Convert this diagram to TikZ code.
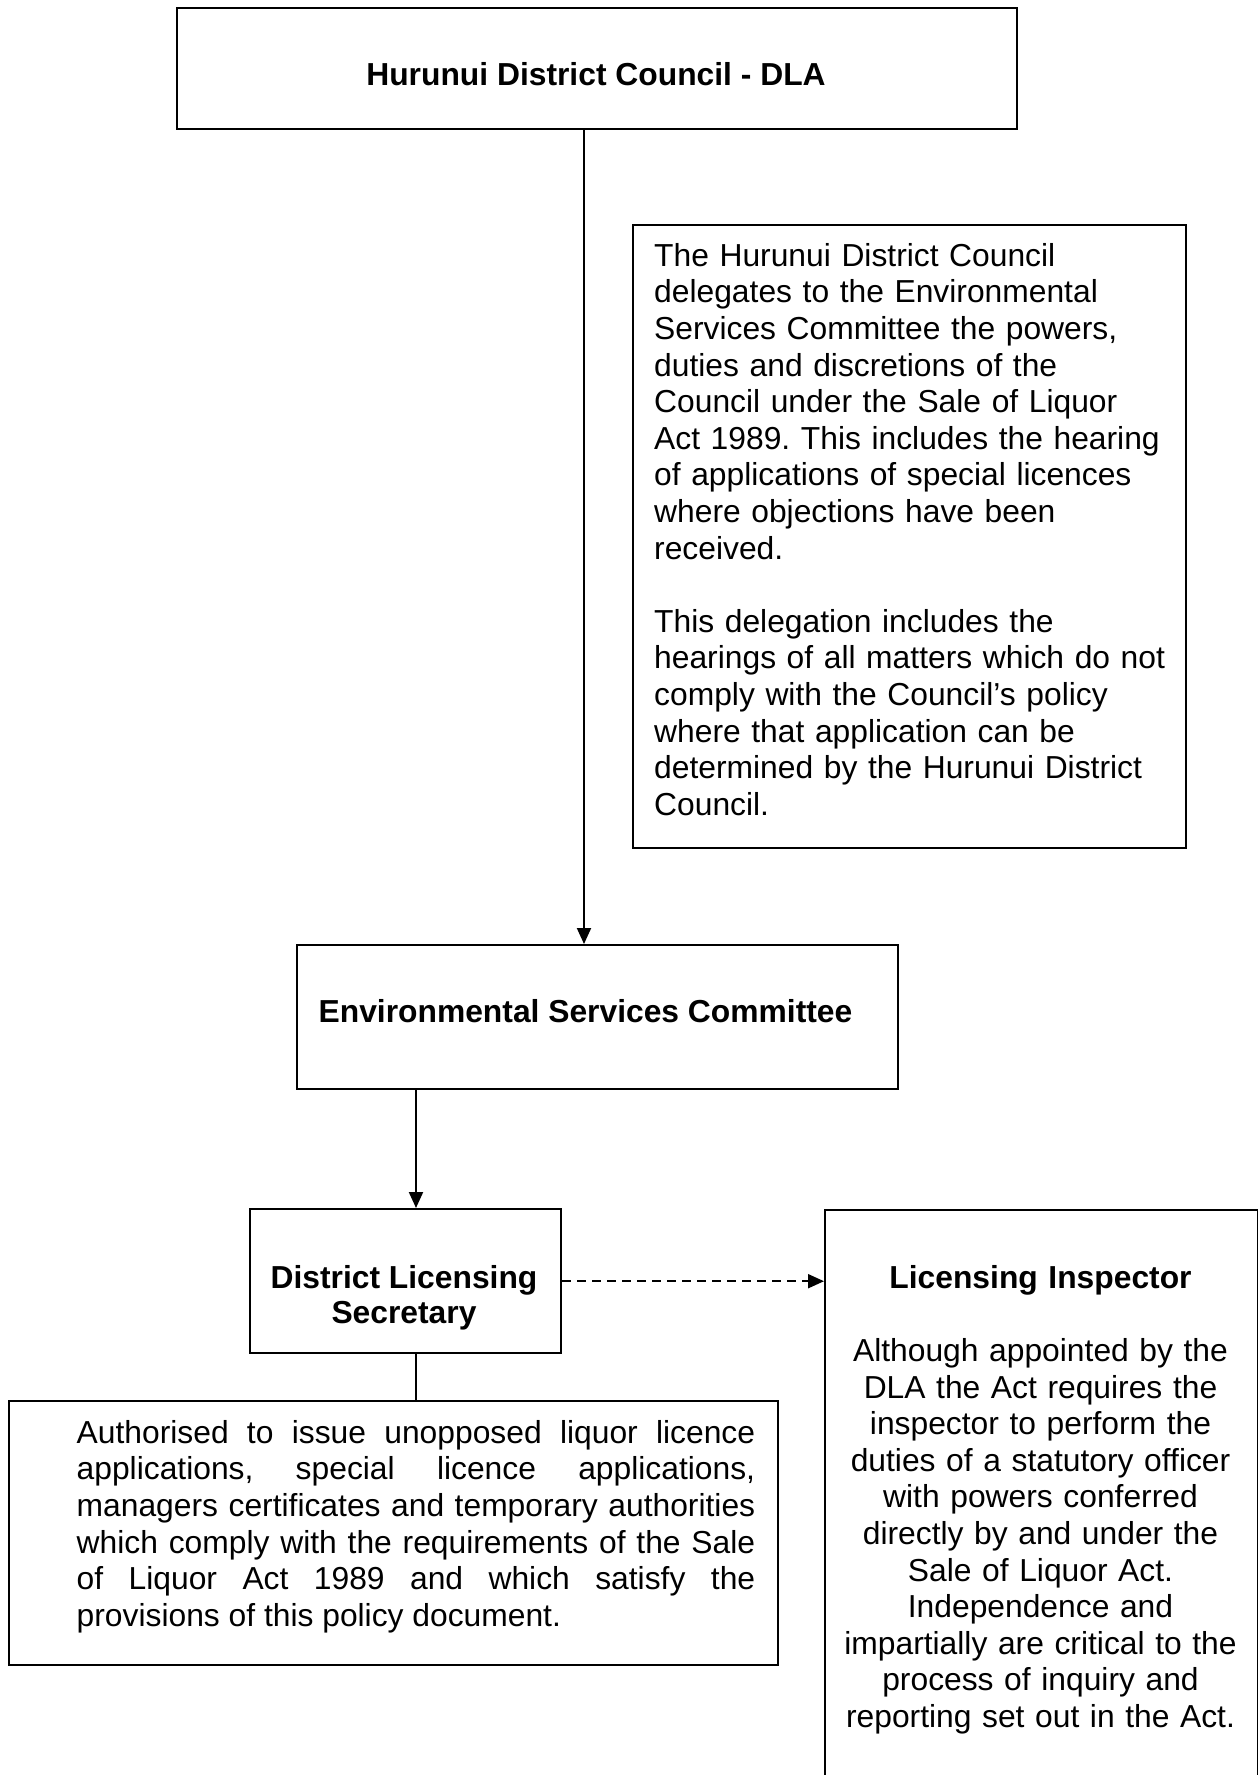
\documentclass[tikz,border=0pt]{standalone}
\usepackage{fontspec}
\setmainfont{Liberation Sans}
\usetikzlibrary{arrows.meta}
\frenchspacing
\newcommand\bodyf{\fontsize{31.8}{36.6}\selectfont}
\newcommand\boldf{\fontsize{31.8}{35}\selectfont\bfseries}
\newcommand\firstline{\rule{0pt}{30.2pt}}
\begin{document}
\begin{tikzpicture}[x=1pt,y=-1pt,
  box/.style={draw, line width=2.4pt, inner sep=0pt, anchor=north west},
  conn/.style={line width=2pt},
  arr/.style={conn, -{Triangle[length=16pt,width=14pt]}},
  dasharr/.style={arr, dash pattern=on 9pt off 6pt},
  txt/.style={inner sep=0pt, font=\bodyf}]
\useasboundingbox (0,0) rectangle (1258,1775);
\fill[white] (0,0) rectangle (1258,1775);
\clip (0,0) rectangle (1258,1775);

% boxes
\node[box, minimum width=840pt, minimum height=121pt] (top) at (176,7) {};
\node[box, minimum width=553pt, minimum height=623pt] (note) at (632,224) {};
\node[box, minimum width=601pt, minimum height=144pt] (env) at (296,944) {};
\node[box, minimum width=311.5pt, minimum height=144pt] (dls) at (248.5,1208) {};
\node[box, minimum width=769pt, minimum height=264pt] (auth) at (7.5,1400) {};
\node[box, minimum width=433pt, minimum height=620pt] (li) at (824,1208.5) {};

% texts
\node[inner sep=0pt, font=\boldf, anchor=base] (toptext) at (596,85) {Hurunui District Council - DLA};
\node[inner sep=0pt, font=\boldf, anchor=base] (envtext) at (585.5,1022) {Environmental Services Committee};
\node[inner sep=0pt, font=\boldf, anchor=north, align=center] (dlstext) at (404,1258.3)
  {\firstline District Licensing\\Secretary};

\node[txt, anchor=north west, text width=530pt, align=left] (notetext) at (654,235.8)
  {\firstline The Hurunui District Council\\
   delegates to the Environmental\\
   Services Committee the powers,\\
   duties and discretions of the\\
   Council under the Sale of Liquor\\
   Act 1989. This includes the hearing\\
   of applications of special licences\\
   where objections have been\\
   received.\\[36.6pt]
   This delegation includes the\\
   hearings of all matters which do not\\
   comply with the Council’s policy\\
   where that application can be\\
   determined by the Hurunui District\\
   Council.};

\node[txt, anchor=north west, text width=678.5pt, align=justify] (authtext) at (76.5,1412.8)
  {\hyphenpenalty=10000\firstline Authorised to issue unopposed liquor licence\linebreak
   applications, special licence applications,\linebreak
   managers certificates and temporary authorities\linebreak
   which comply with the requirements of the Sale\linebreak
   of Liquor Act 1989 and which satisfy the\linebreak
   provisions of this policy document.};

\node[txt, anchor=north, text width=425pt, align=center] (litext) at (1040.5,1257.8)
  {\firstline\textbf{Licensing Inspector}\\[36.6pt]
   Although appointed by the\\
   DLA the Act requires the\\
   inspector to perform the\\
   duties of a statutory officer\\
   with powers conferred\\
   directly by and under the\\
   Sale of Liquor Act.\\
   Independence and\\
   impartially are critical to the\\
   process of inquiry and\\
   reporting set out in the Act.};

% connectors
\coordinate (ax) at (584,0);
\coordinate (bx) at (416,0);
\draw[arr] (top.south -| ax) -- (env.north -| ax);
\draw[arr] (env.south -| bx) -- (dls.north -| bx);
\draw[conn] (dls.south -| bx) -- (auth.north -| bx);
\draw[dasharr] (dls.east) -- (dls.east -| li.west);
\end{tikzpicture}
\end{document}
